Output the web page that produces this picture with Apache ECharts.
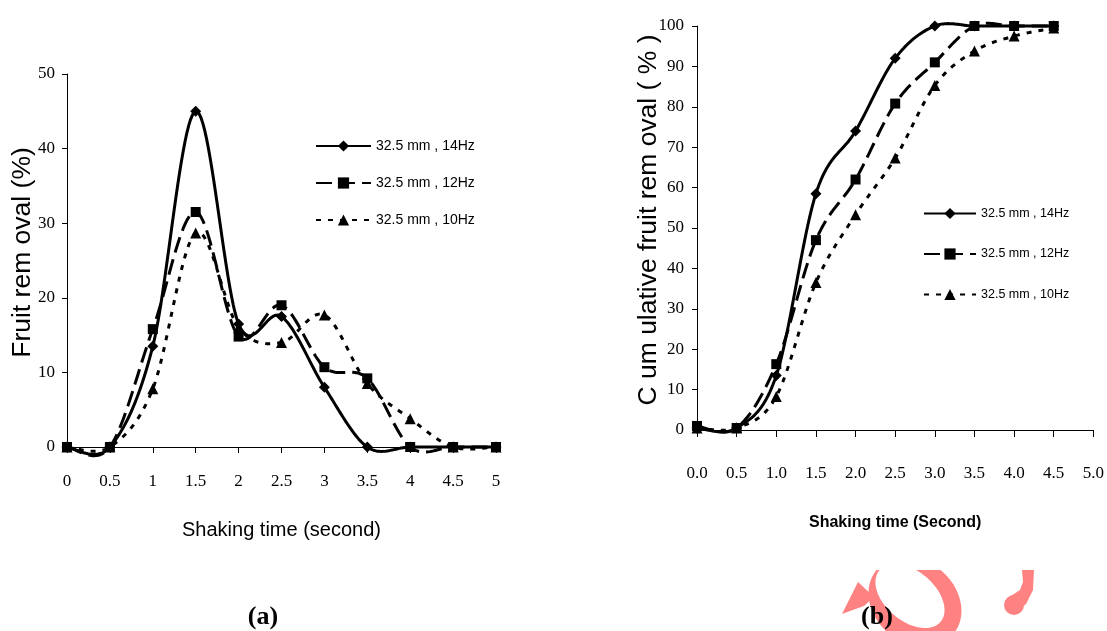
<!DOCTYPE html>
<html>
<head>
<meta charset="utf-8">
<script src="https://cdn.jsdelivr.net/npm/echarts@6/dist/echarts.min.js"></script>
<style>
html,body{margin:0;padding:0;background:#fff;}
#c{width:1107px;height:631px;}
</style>
</head>
<body>
<div id="c"></div>
<script>
// ---- data ----
const seriesNames = ['32.5 mm , 14Hz', '32.5 mm , 12Hz', '32.5 mm , 10Hz'];
const timesA = [0, 0.5, 1, 1.5, 2, 2.5, 3, 3.5, 4, 4.5, 5];
const a14 = [0, 0, 13.5, 45, 16.5, 17.5, 8, 0, 0, 0, 0];
const a12 = [0, 0, 15.8, 31.5, 14.8, 19, 10.7, 9.2, 0, 0, 0];
const a10 = [0, 0, 7.8, 28.7, 16, 14, 17.7, 8.5, 3.8, 0, 0];
const timesB = [0, 0.5, 1, 1.5, 2, 2.5, 3, 3.5, 4, 4.5];
const b14 = [0.5, 0.5, 13.5, 58.5, 74, 92, 100, 100, 100, 100];
const b12 = [1, 0.5, 16.3, 47, 62, 80.8, 91, 100, 100, 100];
const b10 = [0.5, 0.5, 8.3, 36.5, 53.3, 67.3, 85.3, 93.8, 97.5, 99.5];

const pair = (xs, ys) => xs.map((x, i) => [x, ys[i]]);

const styles = [
  { symbol: 'diamond', size: 11, dash: 'solid', dashArr: null, width: 3 },
  { symbol: 'rect', size: 10, dash: [16, 7], dashArr: [16, 7], width: 3 },
  { symbol: 'triangle', size: 11, dash: [5, 7], dashArr: [5, 7], width: 3 }
];

// markers (and legend entries) drawn by a line series whose own line is hidden
function markers(name, data, idx, st) {
  return {
    type: 'line', name: name, data: data, xAxisIndex: idx, yAxisIndex: idx,
    z: 4, clip: false,
    symbol: st.symbol, symbolSize: st.size, showAllSymbol: true,
    lineStyle: { color: '#000', width: st.width, type: st.dash, opacity: 0 },
    itemStyle: { color: '#000', borderWidth: 0 },
    emphasis: { disabled: true }, animation: false
  };
}

// smooth curve (spreadsheet-style Catmull-Rom) through the points, positioned by the axes
function curve(data, idx, st) {
  return {
    type: 'custom', data: data, xAxisIndex: idx, yAxisIndex: idx, z: 3, clip: false,
    encode: { x: 0, y: 1 }, silent: true, animation: false,
    renderItem: function (params, api) {
      if (params.dataIndex !== 0) return null;
      const P = data.map(d => api.coord(d));
      const n = P.length, pts = [];
      for (let i = 0; i < n - 1; i++) {
        const p0 = P[Math.max(i - 1, 0)], p1 = P[i], p2 = P[i + 1], p3 = P[Math.min(i + 2, n - 1)];
        const c1 = [p1[0] + (p2[0] - p0[0]) / 6, p1[1] + (p2[1] - p0[1]) / 6];
        const c2 = [p2[0] - (p3[0] - p1[0]) / 6, p2[1] - (p3[1] - p1[1]) / 6];
        const steps = 24;
        for (let k = (i === 0 ? 0 : 1); k <= steps; k++) {
          const t = k / steps, u = 1 - t;
          pts.push([
            u * u * u * p1[0] + 3 * u * u * t * c1[0] + 3 * u * t * t * c2[0] + t * t * t * p2[0],
            u * u * u * p1[1] + 3 * u * u * t * c1[1] + 3 * u * t * t * c2[1] + t * t * t * p2[1]
          ]);
        }
      }
      return {
        type: 'polyline', shape: { points: pts },
        style: { stroke: '#000', lineWidth: st.width, lineDash: st.dashArr, fill: null, lineJoin: 'round' }
      };
    }
  };
}

const serif = 'Liberation Serif, Times New Roman, serif';
const sans = 'Liberation Sans, Arial, sans-serif';
const axisLineStyle = { show: true, lineStyle: { color: '#000', width: 1 } };
const pink = '#ff8282';

const series = [];
[[a14, 0], [a12, 1], [a10, 2]].forEach(([ys, k]) => {
  series.push(markers(seriesNames[k], pair(timesA, ys), 0, styles[k]));
  series.push(curve(pair(timesA, ys), 0, styles[k]));
});
[[b14, 0], [b12, 1], [b10, 2]].forEach(([ys, k]) => {
  series.push(markers(seriesNames[k], pair(timesB, ys), 1, styles[k]));
  series.push(curve(pair(timesB, ys), 1, styles[k]));
});

const chart = echarts.init(document.getElementById('c'), null, { renderer: 'canvas' });
chart.setOption({
  backgroundColor: '#fff',
  animation: false,
  grid: [
    { left: 67, top: 74, width: 429, height: 373 },
    { left: 697, top: 26, width: 398, height: 404 }
  ],
  xAxis: [
    {
      type: 'value', gridIndex: 0, min: 0, max: 5, interval: 0.5,
      axisLine: axisLineStyle,
      axisTick: { show: true, inside: false, length: 6, lineStyle: { color: '#000' } },
      axisLabel: { margin: 26, color: '#000', fontFamily: serif, fontSize: 17 },
      splitLine: { show: false },
      name: 'Shaking time (second)', nameLocation: 'middle', nameGap: 73,
      nameTextStyle: { color: '#000', fontFamily: sans, fontSize: 20 }
    },
    {
      type: 'value', gridIndex: 1, min: 0, max: 5, interval: 0.5,
      axisLine: axisLineStyle,
      axisTick: { show: true, inside: false, length: 7, lineStyle: { color: '#000' } },
      axisLabel: { margin: 35, color: '#000', fontFamily: serif, fontSize: 17,
        formatter: v => v.toFixed(1) },
      splitLine: { show: false },
      name: 'Shaking time (Second)', nameLocation: 'middle', nameGap: 85,
      nameTextStyle: { color: '#000', fontFamily: sans, fontSize: 16, fontWeight: 'bold' }
    }
  ],
  yAxis: [
    {
      type: 'value', gridIndex: 0, min: 0, max: 50, interval: 10,
      axisLine: axisLineStyle,
      axisTick: { show: true, inside: false, length: 5, lineStyle: { color: '#000' } },
      axisLabel: { margin: 12, color: '#000', fontFamily: serif, fontSize: 17 },
      splitLine: { show: false },
      name: 'Fruit rem oval (%)', nameLocation: 'middle', nameGap: 31, nameMoveOverlap: false,
      nameTextStyle: { color: '#000', fontFamily: sans, fontSize: 26.5, padding: [0, 0, 0, 16] }
    },
    {
      type: 'value', gridIndex: 1, min: 0, max: 100, interval: 10,
      axisLine: axisLineStyle,
      axisTick: { show: true, inside: false, length: 5, lineStyle: { color: '#000' } },
      axisLabel: { margin: 13, color: '#000', fontFamily: serif, fontSize: 17 },
      splitLine: { show: false },
      name: 'C um ulative fruit rem oval ( % )', nameLocation: 'middle', nameGap: 35, nameMoveOverlap: false,
      nameTextStyle: { color: '#000', fontFamily: sans, fontSize: 26.5, padding: [0, 0, 0, 16] }
    }
  ],
  legend: [
    {
      data: seriesNames, orient: 'vertical', left: 310, top: 134,
      itemWidth: 55, itemHeight: 14, itemGap: 23, selectedMode: false,
      lineStyle: { opacity: 1 },
      textStyle: { color: '#000', fontFamily: sans, fontSize: 14 }
    },
    {
      data: seriesNames, orient: 'vertical', left: 918, top: 202,
      itemWidth: 52, itemHeight: 14, itemGap: 27.5, selectedMode: false,
      lineStyle: { opacity: 1 },
      textStyle: { color: '#000', fontFamily: sans, fontSize: 12.5 }
    }
  ],
  series: series,
  graphic: [
    // watermark shapes
    { type: 'ellipse', z: 1, shape: { cx: 0, cy: 0, rx: 50, ry: 41 }, x: 915, y: 602,
      rotation: -0.7, style: { fill: pink } },
    { type: 'ellipse', z: 2, shape: { cx: 0, cy: 0, rx: 40, ry: 25 }, x: 910, y: 596,
      rotation: -0.7, style: { fill: '#fff' } },
    { type: 'rect', z: 3, shape: { x: 850, y: 540, width: 130, height: 30 }, style: { fill: '#fff' } },
    { type: 'polygon', z: 3, shape: { points: [[842, 614], [858, 582], [874, 597], [864, 606], [850, 611]] },
      style: { fill: pink } },
    { type: 'circle', z: 3, shape: { cx: 1014, cy: 605, r: 10 }, style: { fill: pink } },
    { type: 'polygon', z: 3, shape: { points: [[1022, 570], [1034, 570], [1033, 590], [1026, 604], [1016, 612], [1008, 598], [1020, 590], [1023, 582]] },
      style: { fill: pink } },
    // panel labels
    { type: 'text', z: 5, x: 263, y: 617, style: { text: '(a)', fill: '#000', font: 'bold 26px ' + serif, textAlign: 'center', textVerticalAlign: 'middle' } },
    { type: 'text', z: 5, x: 877, y: 617, style: { text: '(b)', fill: '#000', font: 'bold 26px ' + serif, textAlign: 'center', textVerticalAlign: 'middle' } }
  ]
});
</script>
</body>
</html>
